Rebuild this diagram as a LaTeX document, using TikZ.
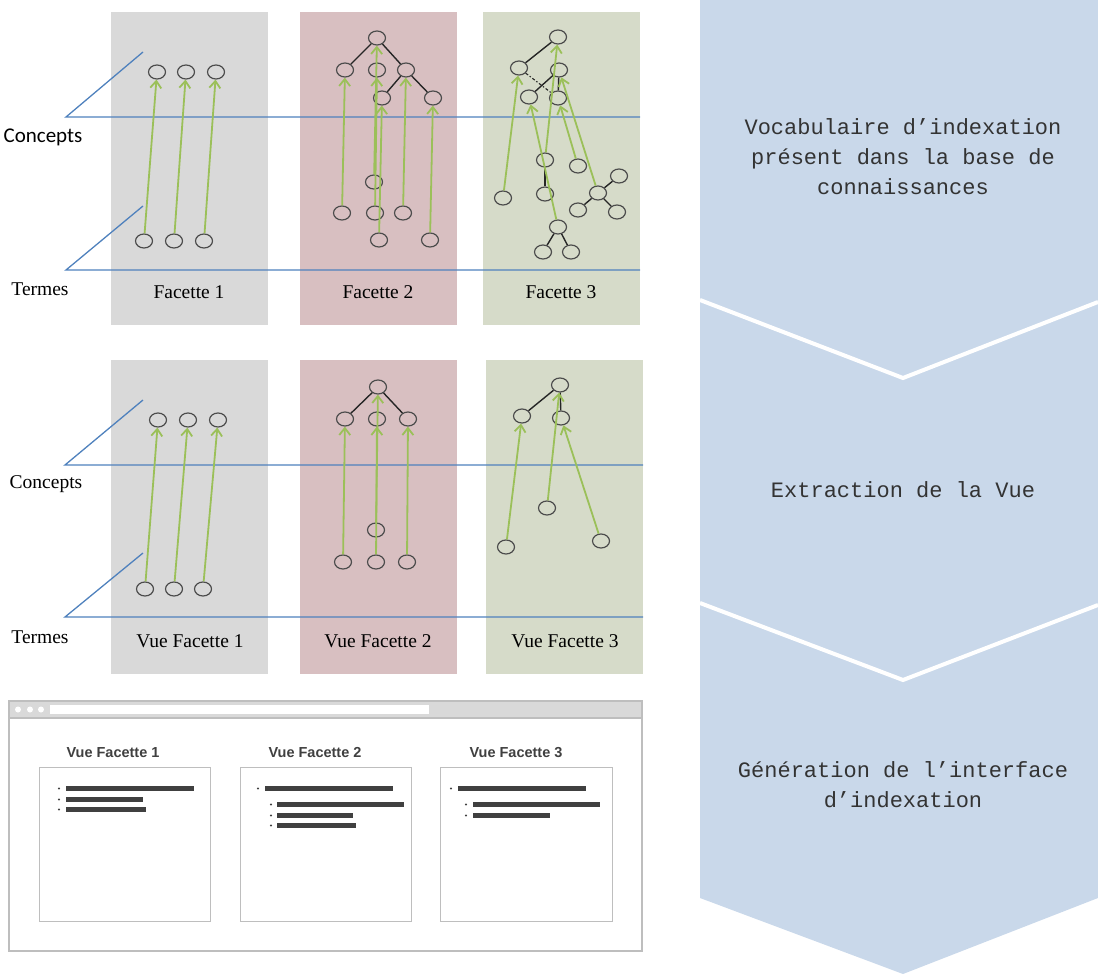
\documentclass[tikz,border=0pt]{standalone}
\usepackage{xcolor}
\usepackage{fontspec}
\setmainfont{Liberation Serif}
\setsansfont{Liberation Sans}
\setmonofont{Liberation Mono}
\newfontfamily\calibrifont{Carlito}
\usepackage{tikz}
\usetikzlibrary{arrows.meta}
\usetikzlibrary{shapes.geometric}
\definecolor{facgray}{RGB}{217,217,217}
\definecolor{facpink}{RGB}{216,191,193}
\definecolor{facgreen}{RGB}{214,219,201}
\definecolor{planeblue}{RGB}{79,129,189}
\definecolor{linkgreen}{RGB}{155,192,89}
\definecolor{chevblue}{RGB}{201,216,234}
\definecolor{bardark}{RGB}{64,64,64}
\definecolor{framegray}{RGB}{190,190,190}
\tikzset{>=latex}
\tikzstyle{panel} = [rectangle, draw=none, inner sep=0pt, minimum width=157pt, minimum height=313pt]
\tikzstyle{cpt} = [ellipse, draw=black!70, line width=1.2pt, minimum width=17pt, minimum height=14pt, inner sep=0pt]
\tikzstyle{lnk} = [-{Straight Barb[length=7pt,width=11pt]}, draw=linkgreen, line width=1.8pt]
\tikzstyle{edge} = [-, draw=black!85, line width=1.4pt]
\tikzstyle{plane} = [-, draw=planeblue, line width=1.3pt]
\tikzstyle{lbl} = [draw=none, font=\fontsize{19.5}{23}\selectfont]
\tikzstyle{steptxt} = [draw=none, align=center, text=black!80, font=\fontsize{22}{30}\selectfont\ttfamily]
\tikzstyle{viewbox} = [rectangle, draw=framegray, line width=1pt, fill=white, inner sep=0pt, minimum height=154pt]
\tikzstyle{viewtitle} = [draw=none, text=bardark, font=\fontsize{14.5}{16}\selectfont\sffamily\bfseries]

\begin{document}
\begin{tikzpicture}[x=1pt, y=-1pt]
\useasboundingbox (0,0) rectangle (1098,974);

% steps on the right
\fill [chevblue] (700,0) -- (1098,0) -- (1098,898) -- (903,974) -- (700,898) -- cycle;
\draw [white, line width=4pt] (700,300) -- (903,378) -- (1098,302);
\draw [white, line width=4pt] (700,603) -- (903,680) -- (1098,605);
\node [steptxt] (S1) at (903,157) {Vocabulaire d’indexation\\présent dans la base de\\connaissances};
\node [steptxt] (S2) at (903,490) {Extraction de la Vue};
\node [steptxt] (S3) at (903,785) {Génération de l’interface\\d’indexation};

% facettes
\node [panel, fill=facgray] (P1) at (189.5,168.5) {};
\node [panel, fill=facpink] (P2) at (378,168.5) {};
\node [panel, fill=facgreen] (P3) at (561.5,168.5) {};
\node [panel, fill=facgray, minimum height=314pt] (V1) at (189.5,517) {};
\node [panel, fill=facpink, minimum height=314pt] (V2) at (378.5,517) {};
\node [panel, fill=facgreen, minimum height=314pt] (V3) at (564.5,517) {};

\draw [plane] (143,52) -- (66,117) -- (640,117);
\draw [plane] (143,206) -- (66,270) -- (640,270);
\draw [plane] (143,400) -- (65,465) -- (643,465);
\draw [plane] (143,553) -- (65,617) -- (643,617);

\node [draw=none, font=\fontsize{21}{24}\selectfont\calibrifont] (LC) at (43,137) {Concepts};
\node [lbl] (LT) at (40,289) {Termes};
\node [lbl] (LC2) at (46,484) {Concepts};
\node [lbl] (LT2) at (40,637) {Termes};
\node [lbl] (F1) at (189,292) {Facette 1};
\node [lbl] (F2) at (378,292) {Facette 2};
\node [lbl] (F3) at (561,292) {Facette 3};
\node [lbl] (VF1) at (190,641) {Vue Facette 1};
\node [lbl] (VF2) at (378,641) {Vue Facette 2};
\node [lbl] (VF3) at (565,641) {Vue Facette 3};

% Facette 1
\node [cpt] (c11) at (157,72) {};
\node [cpt] (c12) at (186,72) {};
\node [cpt] (c13) at (216,72) {};
\node [cpt] (t11) at (144,241) {};
\node [cpt] (t12) at (174,241) {};
\node [cpt] (t13) at (204,241) {};
\draw [lnk] (t11) to (c11);
\draw [lnk] (t12) to (c12);
\draw [lnk] (t13) to (c13);

% Facette 2
\node [cpt] (r2) at (377,38) {};
\node [cpt] (a21) at (345,70) {};
\node [cpt] (a22) at (377,70) {};
\node [cpt] (a23) at (406,70) {};
\node [cpt] (b21) at (382,98) {};
\node [cpt] (b22) at (433,98) {};
\node [cpt] (u21) at (342,213) {};
\node [cpt] (u22) at (375,213) {};
\node [cpt] (u23) at (403,213) {};
\node [cpt] (u24) at (374,182) {};
\node [cpt] (u25) at (379,240) {};
\node [cpt] (u26) at (430,240) {};
\draw [edge] (r2) to (a21);
\draw [edge] (r2) to (a23);
\draw [edge] (a23) to (b21);
\draw [edge] (a23) to (b22);
\draw [lnk] (u21) to (a21);
\draw [lnk] (u22) to (a22);
\draw [lnk] (u24) to (r2);
\draw [lnk] (u25) to (b21);
\draw [lnk] (u23) to (a23);
\draw [lnk] (u26) to (b22);

% Facette 3
\node [cpt] (r3) at (558,37) {};
\node [cpt] (a31) at (519,68) {};
\node [cpt] (a32) at (559,70) {};
\node [cpt] (b31) at (529,97) {};
\node [cpt] (b32) at (558,98) {};
\node [cpt] (d31) at (545,160) {};
\node [cpt] (d32) at (578,166) {};
\node [cpt] (d33) at (545,194) {};
\node [cpt] (d34) at (503,198) {};
\node [cpt] (e3) at (598,193) {};
\node [cpt] (e31) at (619,176) {};
\node [cpt] (e32) at (578,210) {};
\node [cpt] (e33) at (617,212) {};
\node [cpt] (f3) at (558,227) {};
\node [cpt] (f31) at (543,252) {};
\node [cpt] (f32) at (571,252) {};
\draw [edge] (r3) to (a31);
\draw [edge] (a32) to (b31);
\draw [edge] (a32) to (b32);
\draw [edge, dash dot, line width=1.1pt] (a31) to (b32);
\draw [edge] (d31) to (d33);
\draw [edge] (e3) to (e31);
\draw [edge] (e3) to (e32);
\draw [edge] (e3) to (e33);
\draw [edge] (f3) to (f31);
\draw [edge] (f3) to (f32);
\draw [lnk] (d34) to (a31);
\draw [lnk] (f3) to (b31);
\draw [lnk] (d31) to (r3);
\draw [lnk] (d32) to (b32);
\draw [lnk] (e3) to (a32);

% Vue Facette 1
\node [cpt] (vc11) at (158,420) {};
\node [cpt] (vc12) at (188,420) {};
\node [cpt] (vc13) at (218,420) {};
\node [cpt] (vt11) at (145,589) {};
\node [cpt] (vt12) at (174,589) {};
\node [cpt] (vt13) at (203,589) {};
\draw [lnk] (vt11) to (vc11);
\draw [lnk] (vt12) to (vc12);
\draw [lnk] (vt13) to (vc13);

% Vue Facette 2
\node [cpt] (vr2) at (378,387) {};
\node [cpt] (va21) at (345,419) {};
\node [cpt] (va22) at (377,419) {};
\node [cpt] (va23) at (408,419) {};
\node [cpt] (vu21) at (343,562) {};
\node [cpt] (vu22) at (376,562) {};
\node [cpt] (vu23) at (407,562) {};
\node [cpt] (vu24) at (376,530) {};
\draw [edge] (vr2) to (va21);
\draw [edge] (vr2) to (va23);
\draw [lnk] (vu21) to (va21);
\draw [lnk] (vu22) to (va22);
\draw [lnk] (vu24) to (vr2);
\draw [lnk] (vu23) to (va23);

% Vue Facette 3
\node [cpt] (vr3) at (560,385) {};
\node [cpt] (va31) at (522,416) {};
\node [cpt] (va32) at (561,418) {};
\node [cpt] (vu31) at (506,547) {};
\node [cpt] (vu32) at (547,508) {};
\node [cpt] (vu33) at (601,541) {};
\draw [edge] (vr3) to (va31);
\draw [edge] (vr3) to (va32);
\draw [lnk] (vu31) to (va31);
\draw [lnk] (vu32) to (vr3);
\draw [lnk] (vu33) to (va32);

% interface
\draw [draw=framegray, line width=1.2pt, fill=white] (9,701) rectangle (642,951);
\draw [draw=framegray, line width=1.2pt, fill=facgray] (9,701) rectangle (642,718);
\fill [white] (50,705) rectangle (429,714);
\fill [white] (18,709.5) circle (3pt);
\fill [white] (30,709.5) circle (3pt);
\fill [white] (41,709.5) circle (3pt);

\node [viewtitle] (W1) at (113,753) {Vue Facette 1};
\node [viewtitle] (W2) at (315,753) {Vue Facette 2};
\node [viewtitle] (W3) at (516,753) {Vue Facette 3};
\node [viewbox, minimum width=171pt] (B1) at (124.5,844) {};
\node [viewbox, minimum width=171pt] (B2) at (325.5,844) {};
\node [viewbox, minimum width=172pt] (B3) at (526,844) {};

\fill [bardark] (66,786) rectangle (194,791);
\fill [bardark] (66,797) rectangle (143,802);
\fill [bardark] (66,807) rectangle (146,812);
\fill [bardark] (59,788.5) circle (1.2pt) (59,799.5) circle (1.2pt) (59,809.5) circle (1.2pt);

\fill [bardark] (265,786) rectangle (393,791);
\fill [bardark] (277,802) rectangle (404,807);
\fill [bardark] (277,813) rectangle (353,818);
\fill [bardark] (277,823) rectangle (356,828);
\fill [bardark] (258,788.5) circle (1.2pt) (271,804.5) circle (1.2pt) (271,815.5) circle (1.2pt) (271,825.5) circle (1.2pt);

\fill [bardark] (458,786) rectangle (586,791);
\fill [bardark] (473,802) rectangle (600,807);
\fill [bardark] (473,813) rectangle (550,818);
\fill [bardark] (451,788.5) circle (1.2pt) (466,804.5) circle (1.2pt) (466,815.5) circle (1.2pt);
\end{tikzpicture}
\end{document}
